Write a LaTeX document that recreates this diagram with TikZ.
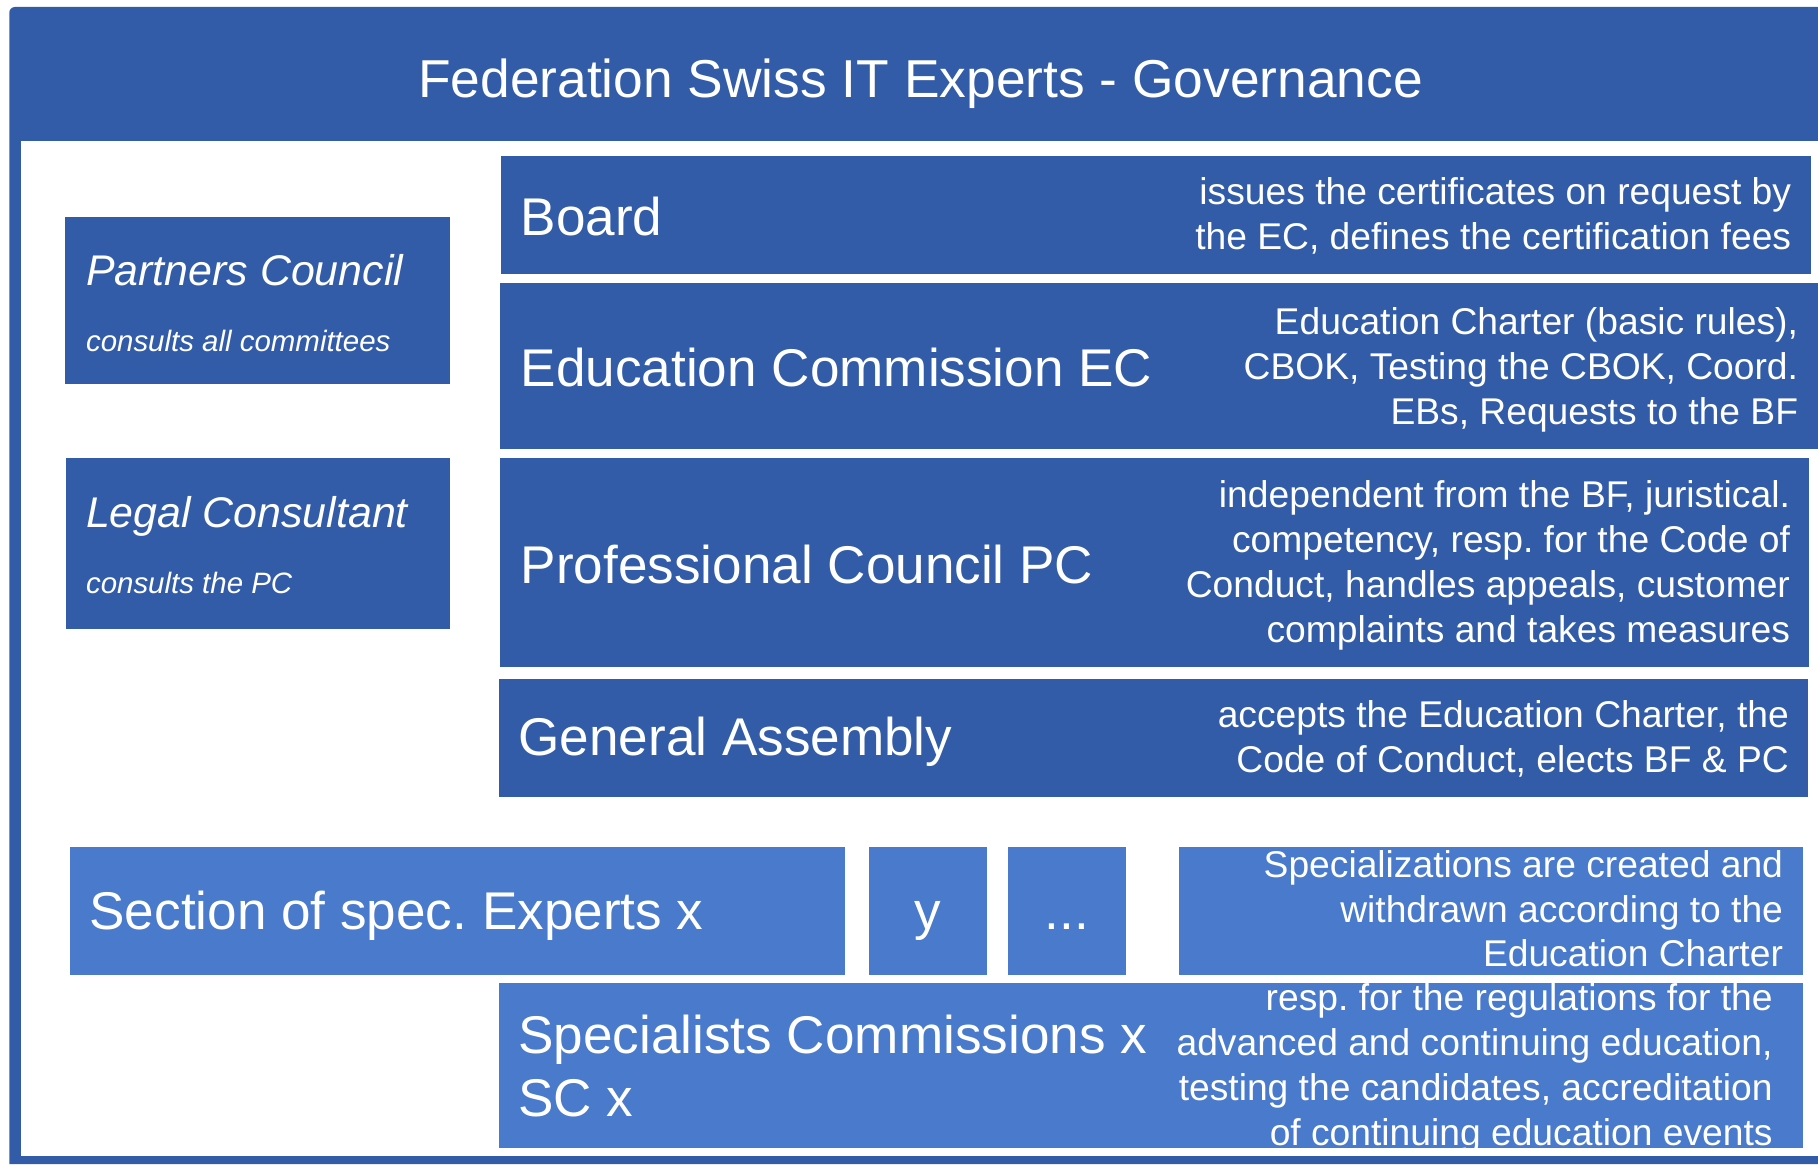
\documentclass[tikz,border=0pt]{standalone}
\usepackage{fontspec}
\setmainfont{Liberation Sans}
\frenchspacing
\definecolor{fsdark}{RGB}{51,92,168}
\definecolor{fslight}{RGB}{73,122,204}

\begin{document}
\begin{tikzpicture}[x=1pt, y=-1pt,
  box/.style={rectangle, fill=fsdark, inner sep=0pt, anchor=north west},
  lightbox/.style={box, fill=fslight},
  namelbl/.style={text=white, inner sep=0pt, anchor=base west, font=\fontsize{45.8}{54.5}\selectfont},
  desclbl/.style={text=white, inner sep=0pt, anchor=base east, align=right, font=\fontsize{32.1}{38.8}\selectfont},
  sidelbl/.style={text=white, inner sep=0pt, anchor=base west, font=\fontsize{37}{44}\selectfont\itshape},
  sidenote/.style={text=white, inner sep=0pt, anchor=base west, font=\fontsize{25.4}{30}\selectfont\itshape}]

\useasboundingbox (0,0) rectangle (1568,1004);
\fill[fsdark] (8,1004) -- (8,11) arc[start angle=180, end angle=270, radius=5] -- (1568,6) -- (1568,1004) -- cycle;
\fill[white] (18,122) rectangle (1568,997);
\node[text=white, inner sep=0pt, anchor=base, font=\fontsize{46}{55}\selectfont] (title) at (794,84) {Federation Swiss IT Experts - Governance};

\node[box, minimum width=332, minimum height=144] (partners) at (56,187) {};
\node[sidelbl] (partnersname) at (74,246) {Partners Council};
\node[sidenote] (partnersnote) at (74,303) {consults all committees};
\node[box, minimum width=331, minimum height=147] (legal) at (57,395) {};
\node[sidelbl] (legalname) at (74,455) {Legal Consultant};
\node[sidenote] (legalnote) at (74,512) {consults the PC};

\node[box, minimum width=1130, minimum height=102] (board) at (432,134) {};
\node[namelbl] (boardname) at (449,203) {Board};
\node[desclbl] (boarddesc) at (1545,215) {issues the certificates on request by\\the EC, defines the certification fees};

\node[box, minimum width=1137, minimum height=143] (edcomm) at (431,244) {};
\node[namelbl] (edcommname) at (449,333) {Education Commission EC};
\node[desclbl] (edcommdesc) at (1551,366) {Education Charter (basic rules),\\CBOK, Testing the CBOK, Coord.\\EBs, Requests to the BF};

\node[box, minimum width=1129, minimum height=180] (profcouncil) at (431,395) {};
\node[namelbl] (profcouncilname) at (449,503) {Professional Council PC};
\node[desclbl] (profcouncildesc) at (1544,554) {independent from the BF, juristical.\\competency, resp. for the Code of\\Conduct, handles appeals, customer\\complaints and takes measures};

\node[box, minimum width=1129, minimum height=102] (genassembly) at (430,585) {};
\node[namelbl] (genassemblyname) at (447,652) {General Assembly};
\node[desclbl] (genassemblydesc) at (1543,666) {accepts the Education Charter, the\\Code of Conduct, elects BF \& PC};

\node[lightbox, minimum width=669, minimum height=111] (secx) at (60,730) {};
\node[namelbl] (secxname) at (77,802) {Section of spec. Experts x};
\node[lightbox, minimum width=102, minimum height=111] (secy) at (749,730) {};
\node[namelbl, anchor=base] (secyname) at (800,802) {y};
\node[lightbox, minimum width=102, minimum height=111] (secmore) at (869,730) {};
\node[namelbl, anchor=base] (secmorename) at (920,802) {...};
\node[lightbox, minimum width=538, minimum height=111] (secnote) at (1017,730) {};
\node[desclbl] (secnotedesc) at (1538,834) {Specializations are created and\\withdrawn according to the\\Education Charter};

\node[lightbox, minimum width=1125, minimum height=142] (spccomm) at (430,848) {};
\node[namelbl, align=left] (spccommname) at (447,963) {Specialists Commissions x\\SC x};
\node[desclbl] (spccommdesc) at (1529,988) {resp. for the regulations for the\\advanced and continuing education,\\testing the candidates, accreditation\\of continuing education events};
\end{tikzpicture}
\end{document}
